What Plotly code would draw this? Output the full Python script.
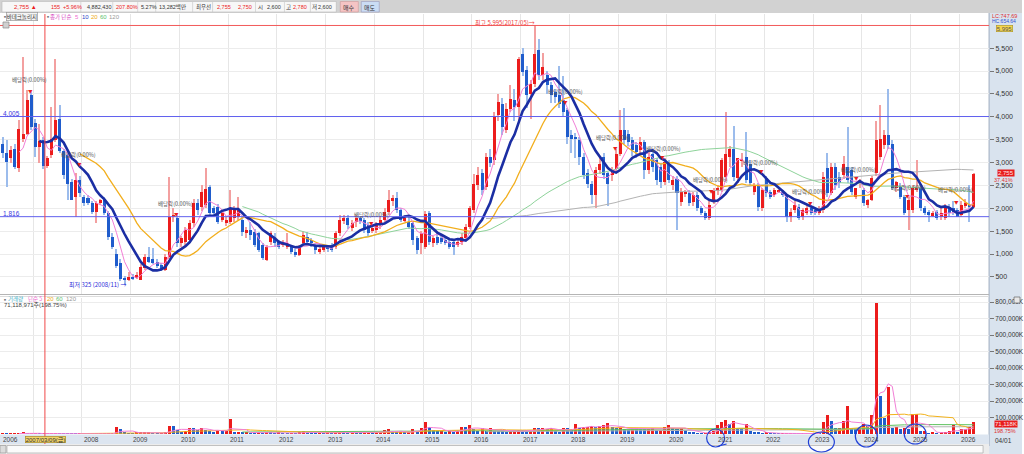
import pandas as pd
import plotly.graph_objects as go

W, H = 1024, 454
FONT = "Noto Sans CJK KR, DejaVu Sans, sans-serif"
NUM = "Liberation Sans, Arial, Noto Sans CJK KR, sans-serif"

# ---------------- data (monthly, May 2006 .. Apr 2026) ----------------
start_month = "2006-05"
open_ = [3400,3200,3090,3300,2870,3520,3630,4470,3870,3340,
         3490,2920,3160,3490,3950,3250,3160,2580,2250,2620,
         2250,2230,2110,1920,2110,2190,1890,1380,1000,800,
         470,450,500,470,440,700,940,900,830,760,
         650,944,1816,1780,1234,1270,1310,1670,2110,2035,
         2070,2470,2000,2035,1740,1670,1710,1780,1810,1740,
         1450,1520,1480,1450,1200,870,1270,1340,1270,1200,
         1160,1160,1050,980,1230,1380,1306,1197,1050,1090,
         1160,1197,1160,1451,1742,1780,1560,1700,1780,1740,
         1640,1524,1524,1630,1742,1924,2178,2215,1960,1742,
         1700,1670,1340,1233,1160,1887,1233,1380,1342,1306,
         1270,1270,1200,1270,1342,1600,1960,2500,2760,2469,
         3124,3051,4032,4286,3705,4177,4360,4214,5377,5013,
         4504,4723,5450,4904,4904,4686,4540,4468,4360,4140,
         3600,3559,3486,3123,2760,2541,2287,2832,3123,2760,
         2723,2868,3196,3705,3632,3486,3378,3269,3450,2832,
         3196,3050,2905,2578,3014,2505,2650,2141,2320,2323,
         2141,2287,1996,1887,1780,2178,2396,2396,2687,3123,
         3305,2651,3050,3124,2978,2360,2506,1997,2651,2360,
         2288,2360,2360,2288,1800,1961,2033,1815,1888,1997,
         1961,1888,1961,2869,2324,2906,2688,2724,2906,2833,
         2251,2542,2397,2070,2179,2760,3124,3378,3596,3415,
         2433,2470,2251,1961,1961,2397,2433,1997,1924,1851,
         1924,1815,1779,2033,1997,1961,1851,2070,2070,2033]
high = [3550,3490,3350,3400,3920,5300,4580,4560,3950,3850,
        3560,3150,4210,5270,4250,3300,3200,2650,2760,2700,
        2300,2280,2150,2150,2200,2250,1950,1450,1100,900,
        520,600,560,600,780,1000,1160,1125,900,800,
        1000,2690,2000,1900,1400,1600,1750,2200,2200,2510,
        2870,2500,2050,2100,1950,1800,2400,2050,2250,1800,
        1600,1700,1550,1480,1250,1200,1500,1450,1300,1300,
        1450,1200,1100,1200,1500,1480,1350,1250,1150,1200,
        1200,1250,1500,1850,1850,1850,1750,1850,1800,1780,
        1700,1650,1700,1800,2000,2400,2300,2350,2000,1850,
        1800,1700,1400,1500,1950,1950,1400,1450,1400,1350,
        1300,1300,1300,1450,1650,2050,2750,2900,2850,3200,
        3300,4100,4500,4400,4300,4700,4600,5300,5500,5100,
        4800,5995,5700,5400,5000,4750,4600,5100,4900,4200,
        3700,3650,3550,3200,2850,2600,2900,3100,3200,2800,
        2900,3300,4150,4200,3700,3550,3450,3550,3500,3250,
        3300,3100,3000,3100,3050,2700,2700,2450,2400,2400,
        2350,2350,2050,1950,2150,2450,2500,3100,4100,3350,
        3800,3100,3200,3669,3050,2550,2550,2450,2700,2400,
        2450,2420,2400,2320,2000,2150,2100,2000,2100,2050,
        2000,2050,2800,3200,3000,3000,2800,3150,3778,2900,
        2450,2650,2450,2200,2700,3900,4250,3700,4614,3500,
        2600,2550,2300,2250,2500,3051,2500,2050,1960,1950,
        1960,2000,2100,2100,2150,2000,2150,2200,2500,2780]
low = [3100,2470,3000,2850,2800,3450,3600,3700,3120,2980,
       2850,2880,3100,3450,3200,2650,2180,2180,1816,2250,
       2050,2080,1880,1670,2080,1850,1300,1100,700,420,
       325,420,440,450,430,650,800,780,700,620,
       620,900,1700,1150,1150,1200,1250,1600,1850,1950,
       2000,1800,1850,1650,1700,1620,1650,1700,1750,1400,
       1350,1300,1150,1050,870,850,1200,1150,1100,1150,
       1100,1000,930,950,1200,1250,1150,1000,1000,1050,
       1050,1050,1100,1400,1650,1550,1500,1600,1650,1450,
       1400,1450,1450,1550,1700,1850,2050,1900,1700,1700,
       1550,1200,1000,1000,1100,1200,1150,1200,1220,1200,
       1100,980,1150,1200,1300,1550,1900,2400,2300,2400,
       2900,2950,3900,3600,3650,4100,3900,3900,4900,4200,
       3950,4650,4800,4800,4500,4300,4300,4200,4000,3400,
       3200,3100,2950,2650,2450,2100,2000,2750,2650,2050,
       2600,2800,3150,3400,3350,3150,3100,3200,2650,2750,
       2800,2500,2450,2500,2550,2400,1524,2050,2250,2050,
       2050,1950,1850,1750,1750,2100,2300,2350,2600,2900,
       2600,2550,2900,2550,2500,2300,1950,1950,2250,2200,
       2250,2330,2250,1700,1700,1900,1750,1750,1850,1850,
       1850,1850,1900,2250,2300,2400,2450,2650,2550,2300,
       2200,2450,2050,2000,2150,2700,3050,3300,3300,2400,
       2350,2200,1850,1524,1900,2350,1950,1850,1700,1800,
       1750,1750,1750,1800,1850,1800,1800,2000,1700,2000]
close = [3200,3015,3270,2900,3740,3630,4360,3780,3340,3460,
         2920,3090,3520,3920,3250,2720,2540,2190,2620,2330,
         2110,2110,1920,2110,2180,1890,1380,1160,730,450,
         440,490,470,540,720,940,835,800,730,650,
         944,1816,1850,1234,1340,1520,1670,2110,1960,2360,
         2430,1890,1890,1710,1890,1740,2000,1960,1960,1490,
         1520,1420,1200,1090,906,1160,1450,1230,1160,1230,
         1230,1050,980,1160,1415,1270,1233,1088,1120,1160,
         1124,1088,1451,1742,1780,1630,1670,1780,1740,1524,
         1451,1560,1630,1742,1924,2178,2215,1960,1742,1780,
         1600,1300,1090,1451,1873,1270,1342,1233,1270,1233,
         1160,1160,1270,1380,1600,2000,2540,2720,2400,3124,
         2980,3996,4323,3778,4177,4395,4214,5268,4977,4468,
         4723,5377,4904,5086,4686,4468,4432,4286,4104,3559,
         3523,3523,3123,2723,2541,2287,2832,2978,2723,2541,
         2832,3196,3705,3486,3450,3269,3232,3450,2832,3123,
         2905,2614,2578,3014,2614,2614,2323,2360,2360,2105,
         2287,1996,1887,1780,2069,2396,2432,3051,3196,3305,
         2687,3088,3087,2615,2542,2506,2033,2397,2324,2251,
         2397,2397,2288,1815,1924,2070,1779,1961,1997,1888,
         1888,1961,2673,2324,2906,2506,2542,2978,2615,2360,
         2433,2615,2106,2179,2651,3487,3524,3596,3378,2433,
         2579,2251,1888,2179,2433,2470,1997,1888,1851,1888,
         1779,1888,2033,1888,1924,1815,2070,2106,2033,2755]
volume_k = [4000,2000,2000,3000,4000,9000,3000,3000,3000,2000,
            2000,2000,3000,5000,2000,1000,800,600,500,500,
            500,400,400,400,400,500,500,600,42700,32500,
            8100,4000,3000,8000,9000,10000,12000,4000,2000,2000,
            10000,48000,47000,22000,14000,18000,38000,37000,22000,38000,
            22000,18000,12000,24000,18000,20000,89000,8000,12000,10000,
            10000,6000,5000,8000,6000,8000,7000,5000,8000,6000,
            4000,5000,4000,9000,18000,12000,8000,5000,6000,4000,
            8000,5000,6000,14000,10000,6000,12000,10000,8000,10000,
            12000,10000,11000,13000,22000,28000,12000,10000,12000,9000,
            10000,28000,14000,38000,75000,44000,22000,16000,18000,14000,
            20000,10000,18000,42000,40000,52000,28000,18000,38000,18000,
            34000,20000,18000,16000,14000,18000,20000,22000,18000,16000,
            20000,36000,35000,37000,30000,34000,20000,8000,38000,34000,
            22000,59000,38000,40000,44000,48000,44000,48000,52000,69000,
            40000,36000,38000,30000,24000,38000,34000,30000,28000,30000,
            36000,24000,26000,42000,55000,34000,30000,38000,22000,10000,
            8000,6000,4000,6000,10000,20000,55000,73000,83000,59000,
            79000,38000,36000,63000,18000,10000,8000,6000,8000,4000,
            3000,2000,2000,3000,4000,3000,2000,3000,3000,2000,
            4000,3000,75000,116000,79000,38000,38000,79000,171000,38000,
            28000,38000,59000,48000,114000,791000,232000,100000,283000,38000,
            43000,32000,38000,28000,120000,120000,18000,18000,2000,14000,
            2000,8000,8000,18000,55000,8000,28000,28000,43000,71119]
price_ma_periods = [120, 60, 20, 5, 10]
volume_ma_periods = [120, 60, 20, 5]
price_ticks = list(range(500, 6000, 500))
volume_ticks = list(range(100000, 900000, 100000))
level_high, level_upper, level_lower = 5995, 4005, 1816

# ---------------- helpers ----------------
n = len(close)
idx = list(range(n))
months = pd.period_range(start_month, periods=n, freq="M")
jan_idx = [i for i, m in enumerate(months) if m.month == 1]
year_of = [months[i].year for i in jan_idx]

def ix(px):  # pixel x -> bar index
    return (px - 2.7) / 4.07

def py2p(py):
    return (299.75 - py) / 0.04575

RED, BLUE = "#ec1c1c", "#1f5ccc"
RED_W, BLUE_W = "#f3a0a0", "#9cbcec"
up = [c >= o for o, c in zip(open_, close)]

fig = go.Figure()
fig.add_trace(go.Bar(x=idx, y=[h - l for h, l in zip(high, low)], base=low, width=0.26,
                     marker=dict(color=[RED_W if u else BLUE_W for u in up], line=dict(width=0)),
                     xaxis="x", yaxis="y", hoverinfo="skip"))
fig.add_trace(go.Bar(x=idx, y=[max(abs(c - o), 12) for o, c in zip(open_, close)],
                     base=[min(o, c) for o, c in zip(open_, close)], width=0.74,
                     marker=dict(color=[RED if u else BLUE for u in up], line=dict(width=0)),
                     xaxis="x", yaxis="y", hoverinfo="skip"))

cs = pd.Series(close, dtype=float)
ma_style = {5: ("#f27fd6", 1), 10: ("#1b2ea3", 2.6), 20: ("#f2ae1c", 1.3),
            60: ("#8ed39a", 1), 120: ("#b3b3b3", 1)}
for p in price_ma_periods:
    col, w = ma_style[p]
    fig.add_trace(go.Scatter(x=idx, y=cs.rolling(p).mean(), mode="lines",
                             line=dict(color=col, width=w), xaxis="x", yaxis="y", hoverinfo="skip"))

vcol = [RED if i == 0 or volume_k[i] >= volume_k[i - 1] else BLUE for i in range(n)]
fig.add_trace(go.Bar(x=idx, y=volume_k, width=0.74, marker=dict(color=vcol, line=dict(width=0)),
                     xaxis="x2", yaxis="y2", hoverinfo="skip"))
vs = pd.Series(volume_k, dtype=float)
vma_style = {5: ("#f27fd6", 1), 20: ("#f2b21c", 1), 60: ("#5fc35f", 1), 120: ("#b3b3b3", 1)}
for p in volume_ma_periods:
    col, w = vma_style[p]
    fig.add_trace(go.Scatter(x=idx, y=vs.rolling(p).mean(), mode="lines",
                             line=dict(color=col, width=w), xaxis="x2", yaxis="y2", hoverinfo="skip"))

# ---------------- shapes ----------------
shapes = []
def rect(x0, y0, x1, y1, fill, line=None, lw=1, layer="below"):
    shapes.append(dict(type="rect", xref="paper", yref="paper", x0=x0 / W, x1=x1 / W,
                       y0=1 - y1 / H, y1=1 - y0 / H, fillcolor=fill,
                       line=dict(color=line if line else fill, width=lw if line else 0), layer=layer))

def hline_px(x0, x1, y, color, w=1, layer="above"):
    shapes.append(dict(type="line", xref="paper", yref="paper", x0=x0 / W, x1=x1 / W,
                       y0=1 - y / H, y1=1 - y / H, line=dict(color=color, width=w), layer=layer))

def vline_px(x, y0, y1, color, w=1, layer="above"):
    shapes.append(dict(type="line", xref="paper", yref="paper", x0=x / W, x1=x / W,
                       y0=1 - y1 / H, y1=1 - y0 / H, line=dict(color=color, width=w), layer=layer))

rect(0, 0, W, 13, "#d2d2d2")
rect(2, 1.5, 337, 12, "#f7f7f7", "#b8b8b8", 0.6)
for sx in [81, 113, 138, 156, 193, 213, 256, 285, 311]:
    vline_px(sx, 2, 12, "#c4c4c4", 0.6, "below")
rect(341, 1.5, 359, 12, "#f5c4c4", "#c99", 0.6)
rect(362, 1.5, 380, 12, "#cadcf4", "#99b", 0.6)
rect(991, 13, W, H, "#d9e3ee")
vline_px(991, 13, 446, "#9eadbf", 1, "below")
rect(0, 434.5, 991, 444, "#dce5f0")
rect(0, 444, 991, H, "#ececec")
rect(7, 445.5, 985, 453, "#fbfbfb", "#a9a9a9", 0.7)
rect(0, 445.5, 6, 453, "#dcdcdc", "#999", 0.7)
hline_px(0, 991, 294.5, "#b5b5b5", 1, "below")
hline_px(0, 991, 296.5, "#dddddd", 1, "below")
shapes.append(dict(type="line", xref="paper", yref="y", x0=0, x1=991 / W, y0=level_high, y1=level_high,
                   line=dict(color="#f25a5a", width=1), layer="above"))
for lv in (level_upper, level_lower):
    shapes.append(dict(type="line", xref="paper", yref="y", x0=0, x1=991 / W, y0=lv, y1=lv,
                       line=dict(color="#6060ee", width=1), layer="above"))
vline_px(45, 14, 444, "#f04848", 1)
rect(3, 22, 9, 28, "#d0d0d0", "#8a8a8a", 0.7, "above")
for (x0, y0, x1, y1) in [(708, 429, 726, 447), (810, 432, 836, 452), (857, 425, 879, 447), (906, 424, 928, 444)]:
    shapes.append(dict(type="circle", xref="paper", yref="paper", x0=x0 / W, x1=x1 / W,
                       y0=1 - y1 / H, y1=1 - y0 / H, line=dict(color="#1f3fd6", width=1.2), layer="above"))
shapes.append(dict(type="path", xref="paper", yref="paper",
                   path=f"M {720/W} {1-446/H} L {728/W} {1-444/H}",
                   line=dict(color="#1f3fd6", width=1.2), layer="above"))

# ---------------- annotations ----------------
ann = []
def txt(x, y, s, color="#333333", size=7, xanchor="left", bg=None, border=None, family=FONT):
    d = dict(x=x / W, y=1 - y / H, xref="paper", yref="paper", text=s, showarrow=False,
             xanchor=xanchor, yanchor="middle", font=dict(size=size, color=color, family=family),
             borderpad=0)
    if bg:
        d["bgcolor"] = bg
    if border:
        d["bordercolor"] = border
        d["borderwidth"] = 0.7
    ann.append(d)

hy = 7
HS = 5.5
txt(13, hy, "2,755 ▲", RED, 6, family=NUM); txt(50, hy, "155", RED, HS, family=NUM)
txt(62, hy, "+5.96%", RED, HS, family=NUM)
txt(86, hy, "4,882,430", "#333", HS, family=NUM); txt(115, hy, "207.80%", RED, HS, family=NUM)
txt(140, hy, "5.27%", "#333", HS, family=NUM)
txt(158, hy, "13,282백만", "#333", HS, family=NUM); txt(195, hy, "최우선", "#333", 5.5)
txt(216, hy, "2,755", RED, HS, family=NUM); txt(237, hy, "2,750", RED, HS, family=NUM)
txt(258, hy, "시", "#333", 5.5); txt(267, hy, "2,600", "#333", HS, family=NUM)
txt(286, hy, "고", "#333", 5.5); txt(293, hy, "2,780", RED, HS, family=NUM)
txt(312, hy, "저", "#333", 5.5); txt(318, hy, "2,600", "#333", HS, family=NUM)
txt(350, hy, "매수", "#333", 6, "center"); txt(371, hy, "매도", "#333", 6, "center")

txt(1, 17, "▪", "#777", 6)
txt(6, 17, "바데크놀리지", "#333", 5.5, bg="#f4f4f4", border="#999")
txt(44, 17, "▪", "#777", 6)
txt(49, 17, "종가 단순", "#d63fc0", 5.5)
txt(74, 17, "5", "#f06cd0", 6, family=NUM); txt(81, 17, "10", "#2b46c8", 6, family=NUM)
txt(90, 17, "20", "#eeaa10", 6, family=NUM); txt(99, 17, "60", "#5cbf6c", 6, family=NUM)
txt(108, 17, "120", "#9a9a9a", 6, family=NUM)
txt(1, 299, "▪", "#777", 6)
txt(7, 299, "거래량", "#3fb0c8", 5.5); txt(27, 299, "단순 5", "#f06cd0", 5.5)
txt(46, 299, "20", "#eeaa10", 6, family=NUM); txt(55, 299, "60", "#5cbf6c", 6, family=NUM)
txt(65, 299, "120", "#9a9a9a", 6, family=NUM)
txt(3, 305.5, "71,118,971주(198.75%)", "#444", 6, family=NUM)

txt(2, 113, "4,005", "#3a3ae0", 6.5, family=NUM)
txt(2, 213, "1,816", "#3a3ae0", 6.5, family=NUM)
txt(537, 23, "최고 5,995(2017/05)→", "#f04040", 6, "right")
txt(68, 284, "최저 325 (2008/11) →", "#2a2ad8", 6)

divs = [(30, 80, 31, 91), (79, 155, 80, 164), (176, 204, 177, 214), (372, 215, 372, 223),
        (567, 92, 567, 102), (615, 138, 617, 148), (665, 149, 664, 157), (712, 180, 713, 191),
        (762, 163, 763, 171), (811, 192, 812, 203), (860, 170, 858, 178), (910, 188, 909, 196),
        (957, 190, 958, 202)]
for tx, ty, mx, my in divs:
    txt(tx, ty, "배당락(0.00%)", "#555555", 5.5, "center")
    txt(mx, my, "▼", "#e82020", 4.5, "center")

txt(993, 16, "LC:747.69", "#e03030", 5.5, family=NUM)
txt(993, 21, "HC:654.64", "#3050d0", 5, family=NUM)
txt(1006, 28.5, "5,995", "#555", 6, "center", bg="#f6d64e", border="#b39a2a", family=NUM)
txt(1008, 172.5, "2,755", "#ffe8e8", 6, "center", bg="#e81c1c", family=NUM)
txt(995, 179.5, "37.41%", "#e03030", 5.5, family=NUM)
txt(1008, 424, "71,118K", "#ffe8e8", 6, "center", bg="#e81c1c", family=NUM)
txt(995, 431, "198.75%", "#e03030", 5.5, family=NUM)
txt(996, 440, "04/01", "#333", 6.5, family=NUM)
rect(1016, 297, 1022, 303, "#e8e8e8", "#666", 0.7, "above")

for i, yv in zip(jan_idx, year_of):
    if yv == 2007:
        continue
    gx = 2.7 + 4.07 * (i - 0.5)
    txt(gx + 1, 439.5, str(yv), "#444", 6.5, family=NUM)
txt(2, 439.5, "2006", "#444", 6.5, family=NUM)
txt(45.5, 439.5, "2007/03/09(금)", "#333", 6, "center", bg="#f2d36a", border="#a88a20", family=NUM)

grid_x = [i - 0.5 for i in jan_idx]
xr = [ix(0), ix(991)]
axis_font = dict(size=7, color="#333", family=NUM)
fig.update_layout(
    width=W, height=H, margin=dict(l=0, r=0, t=0, b=0),
    paper_bgcolor="white", plot_bgcolor="white", showlegend=False,
    barmode="overlay", bargap=0,
    xaxis=dict(domain=[0, 991 / W], range=xr, anchor="y", tickvals=grid_x, showticklabels=False,
               ticks="", showgrid=True, gridcolor="#e6e6e6", gridwidth=1, zeroline=False, fixedrange=True),
    xaxis2=dict(domain=[0, 991 / W], range=xr, anchor="y2", matches="x", tickvals=grid_x,
                showticklabels=False, ticks="", showgrid=True, gridcolor="#e6e6e6", zeroline=False),
    yaxis=dict(domain=[1 - 294 / H, 1 - 14 / H], range=[py2p(294), py2p(14)], side="right",
               anchor="x", tickvals=price_ticks, ticktext=[f"{v:,}" for v in price_ticks],
               ticks="outside", ticklen=4, tickcolor="#777", tickfont=axis_font,
               showgrid=True, gridcolor="#ececec", zeroline=False, showline=False),
    yaxis2=dict(domain=[1 - 434 / H, 1 - 298 / H], range=[0, (434 - 298) / 16.5 * 100000],
                side="right", anchor="x2", tickvals=volume_ticks,
                ticktext=[f"{v:,}K" for v in volume_ticks], ticks="outside", ticklen=4,
                tickcolor="#777", tickfont=dict(size=6.5, color="#333", family=NUM),
                showgrid=True, gridcolor="#ececec", zeroline=False, showline=False),
    shapes=shapes, annotations=ann,
)

fig.write_html("out.html")
